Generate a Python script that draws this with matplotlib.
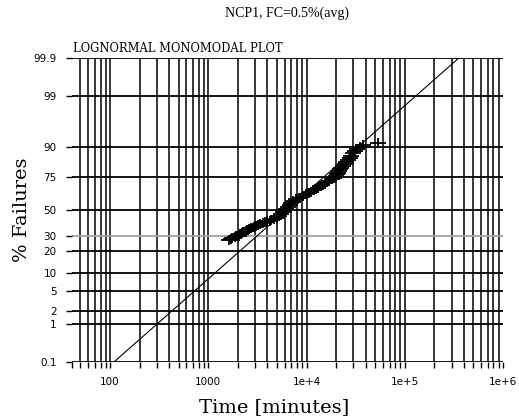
import numpy as np
import matplotlib
matplotlib.use("Agg")
import matplotlib.pyplot as plt
from matplotlib.path import Path
from matplotlib.ticker import FixedLocator, FixedFormatter, NullFormatter
from statistics import NormalDist

# ---- data ----
times = [1620, 1700, 1750, 1850, 1950, 2050, 2150, 2250, 2400, 2500, 2600, 2750,
         2900, 3050, 3200, 3400, 3600, 3800, 4000, 4200, 4400, 4700, 5000, 5300,
         5500, 5700, 5900, 6200, 6500, 6800, 7000, 7300, 7800, 8500, 9200, 9800,
         10500, 11200, 11800, 12500, 13000, 13800, 14500, 15300, 16000, 17000,
         18000, 19000, 19800, 20500, 21000, 21500, 22000, 22700, 23500, 24500,
         25500, 26500, 27500, 28500, 30000, 31500, 33000, 35000, 38000, 54000]
pct = [27.0, 27.6, 28.3, 28.9, 29.6, 30.2, 31.0, 32.5, 33.3, 34.0, 34.8, 35.5,
       36.3, 37.0, 37.8, 38.5, 39.3, 40.0, 40.8, 41.5, 42.3, 43.0, 43.8, 45.0,
       46.5, 48.0, 49.5, 51.0, 52.5, 54.0, 55.5, 57.0, 58.5, 60.0, 61.5, 62.5,
       63.5, 64.5, 65.5, 66.5, 67.5, 68.5, 69.5, 70.5, 71.5, 72.5, 73.5, 74.5,
       75.5, 76.5, 77.5, 78.5, 79.5, 80.5, 81.5, 82.5, 83.5, 84.5, 85.5, 86.5,
       87.5, 88.5, 89.3, 90.0, 90.7, 91.5]

fit_median = 6240.0        # minutes
fit_sigma_dec = 0.568      # sigma in decades

ytick_vals = [0.1, 1, 2, 5, 10, 20, 30, 50, 75, 90, 99, 99.9]
ytick_labels = ["0.1", "1", "2", "5", "10", "20", "30", "50", "75", "90", "99", "99.9"]
xtick_vals = [100, 1000, 1e4, 1e5, 1e6]
xtick_labels = ["100", "1000", "1e+4", "1e+5", "1e+6"]

title = "NCP1, FC=0.5%(avg)"
subtitle = "LOGNORMAL MONOMODAL PLOT"
xlabel = "Time [minutes]"
ylabel = "% Failures"

# ---- probit scale ----
_nd = NormalDist()
_ppf = np.vectorize(_nd.inv_cdf, otypes=[float])
_cdf = np.vectorize(_nd.cdf, otypes=[float])
def fwd(p):
    p = np.asarray(p, dtype=float)
    q = np.clip(p / 100.0, 1e-9, 1 - 1e-9)
    return _ppf(q)
def inv(z):
    z = np.asarray(z, dtype=float)
    return _cdf(z) * 100.0

fig = plt.figure(figsize=(5.19, 4.18), dpi=100)
ax = fig.add_axes([72/519, 1 - 362/418, (503-72)/519, (362-58)/418])
ax.set_xscale("log")
ax.set_yscale("function", functions=(fwd, inv))
ax.set_xlim(41, 1e6)
ax.set_ylim(0.1, 99.9)

# grid: vertical lines at every 1..9 multiple
vlines = []
for d in range(1, 6):
    for m in range(1, 10):
        v = m * 10**d
        if 41 <= v <= 1e6:
            vlines.append(v)
for v in vlines:
    ax.axvline(v, color="black", lw=1.1, zorder=1)
for y in ytick_vals:
    c = "#a0a0a0" if y == 30 else "black"
    ax.axhline(y, color=c, lw=1.3, zorder=1)

for s in ax.spines.values():
    s.set_visible(False)

ax.xaxis.set_major_locator(FixedLocator(xtick_vals))
ax.xaxis.set_major_formatter(FixedFormatter(xtick_labels))
ax.xaxis.set_minor_locator(FixedLocator([v for v in vlines if v not in xtick_vals] + [41]))
ax.xaxis.set_minor_formatter(NullFormatter())
ax.yaxis.set_major_locator(FixedLocator(ytick_vals))
ax.yaxis.set_major_formatter(FixedFormatter(ytick_labels))
ax.yaxis.set_minor_locator(FixedLocator([]))
ax.tick_params(axis="both", which="both", length=4, width=1, color="black",
               labelsize=7.5, pad=7)

# fit line
pp = np.linspace(0.1, 99.9, 200)
zz = fwd(pp)
tt = 10 ** (np.log10(fit_median) + zz * fit_sigma_dec)
ax.plot(tt, pp, color="black", lw=0.8, zorder=3)

# data, wide plus marker
plus = Path([(-1.5, 0), (1.5, 0), (0, -1), (0, 1)],
            [Path.MOVETO, Path.LINETO, Path.MOVETO, Path.LINETO])
ax.plot(times, pct, linestyle="none", marker=plus, markersize=11, mew=1.3,
        color="black", zorder=4)

fig.text(287/519, 1 - 13/418, title, ha="center", va="center",
         fontsize=10, family="Liberation Serif")
fig.text(73/519, 1 - 48/418, subtitle, ha="left", va="center",
         fontsize=8.3, family="DejaVu Serif")
ax.set_xlabel(xlabel, fontsize=14, family="DejaVu Serif")
ax.xaxis.set_label_coords((274 - 72) / 431, -(407 - 362) / 304)
ax.xaxis.label.set_va("center")
ax.set_ylabel(ylabel, fontsize=14, family="DejaVu Serif")
ax.yaxis.set_label_coords(-(72 - 22) / 431, 0.5)
ax.yaxis.label.set_va("center")

fig.savefig("out.png", dpi=100)
